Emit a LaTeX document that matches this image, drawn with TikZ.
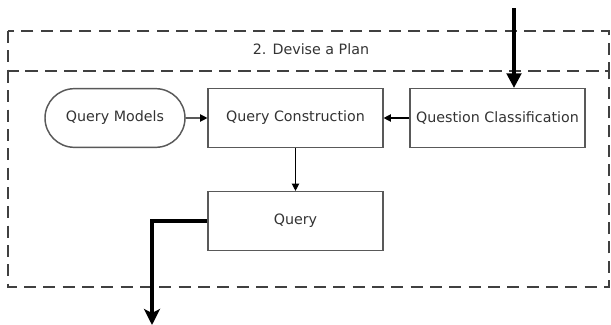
\documentclass[tikz,border=0pt]{standalone}
\usepackage{fontspec}
\setmainfont{DejaVu Sans}
\usetikzlibrary{arrows.meta,shapes.misc}
\begin{document}
\begin{tikzpicture}[x=0.75pt,y=-0.75pt,
  txt/.style={font=\fontsize{10.7}{12}\selectfont, text=black!80},
  dashbox/.style={draw=black!75, line width=1pt, dash pattern=on 9pt off 5.5pt},
  procbox/.style={txt, draw=black!65, line width=1.1pt, rectangle, minimum width=131pt, minimum height=44pt, inner sep=0pt},
  termbox/.style={txt, draw=black!65, line width=1.1pt, rounded rectangle, minimum width=105pt, minimum height=44pt, inner sep=0pt},
  thin/.style={draw=black, line width=0.9pt, -{Triangle[length=5.5pt,width=5.5pt]}},
  thick/.style={draw=black, line width=2.3pt, -{Triangle[length=11pt,width=11pt]}}]
\useasboundingbox (0,0) rectangle (611,325);
\draw[dashbox] (8,31) rectangle (609,71);
\draw[dashbox] (8,71) rectangle (609,287);
\node[txt] (title) at (311,49) {2. Devise a Plan};
\node[termbox] (qm) at (115,118) {Query Models};
\node[procbox] (qc) at (295.5,118) {Query Construction};
\node[procbox] (qcl) at (497.5,118) {Question Classification};
\node[procbox] (q) at (295.5,221) {Query};
\coordinate (top) at (514,8);
\coordinate (bot) at (152,325);
\draw[thick] (top) -- (top |- qcl.north);
\draw[thin] (qm) -- (qc);
\draw[thin] (qcl) -- (qc);
\draw[thin] (qc) -- (q);
\draw[thick, -{Stealth[length=12pt,width=12pt,inset=3pt]}] (q.west) -| (bot);
\end{tikzpicture}
\end{document}
